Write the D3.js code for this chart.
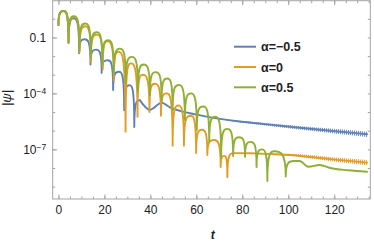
<!DOCTYPE html>
<html>
<head>
<meta charset="utf-8">
<script src="https://cdn.jsdelivr.net/npm/d3@7"></script>
<style>
  body { margin: 0; background: #fff; }
  svg { display: block; font-family: "Liberation Sans", Arial, sans-serif; }
</style>
</head>
<body>
<svg id="chart" width="374" height="243"></svg>
<script>
// values are log10|psi|, t on the x axis
const seriesNames = ["\u03b1=\u22120.5", "\u03b1=0", "\u03b1=0.5"];
const colors = ["#5e81b5", "#e19c24", "#8fb032"];

const startPoint = [0, -0.34];

// blue, alpha = -0.5
const bluePeaks = [[2.3, 0.42], [6.6, 0.02], [11.4, -1.1], [16.4, -1.65], [21.5, -2.22], [26.3, -2.84], [30.9, -3.56]];
const blueDips = [[4.4, -1.3], [9.0, -1.85], [13.95, -2.45], [18.8, -2.9], [23.8, -3.82], [28.6, -4.9], [33.0, -5.8]];
const blueTail = [[35.4, -4.36, 0], [39.8, -4.88, 0], [44.9, -4.5, 0], [48.5, -4.75, 0], [54.2, -4.98, 0],
  [60, -5.13, 0], [68.9, -5.34, 0.01], [77, -5.48, 0.04], [86.3, -5.6, 0.06], [100.8, -5.79, 0.09],
  [118.3, -6.0, 0.12], [134.3, -6.19, 0.14]];

// orange, alpha = 0
const orangePeaks = [[2.3, 0.42], [6.6, 0.1], [11.6, -0.4], [16.5, -0.85], [21.1, -1.2], [26.1, -1.77],
  [31.4, -2.39], [36.6, -3.0], [41.8, -3.48], [47.0, -4.0], [52.1, -4.65], [57.5, -5.2], [62.4, -5.95],
  [67.7, -6.5], [72.1, -7.35]];
const orangeDips = [[4.4, -1.3], [9.15, -1.8], [14.1, -2.3], [19.3, -2.7], [24.1, -3.3], [29.2, -6.05],
  [34.4, -5.25], [39.6, -5.0], [44.6, -5.2], [49.7, -6.8], [54.6, -6.8], [59.9, -7.2], [64.8, -7.3],
  [70.6, -7.95], [73.5, -8.5]];
const orangeTail = [[76.1, -7.2, 0], [83.4, -7.21, 0], [92, -7.25, 0.03], [100.8, -7.3, 0.06],
  [118.3, -7.52, 0.11], [134.3, -7.71, 0.14]];

// green, alpha = 0.5
const greenPeaks = [[2.3, 0.42], [6.7, 0.14], [11.6, -0.25], [16.6, -0.72], [21.6, -1.15], [26.7, -1.6],
  [31.9, -2.04], [37.1, -2.45], [42.3, -2.86], [47.3, -3.2], [52.3, -3.55], [57.6, -4.0], [62.9, -4.7],
  [68.2, -5.25], [73.4, -5.9], [78.6, -6.35], [83.7, -6.6], [88.5, -7.0], [93.9, -7.1]];
const greenDips = [[4.36, -1.24], [9.15, -1.7], [14.1, -2.1], [19.1, -2.55], [24.1, -3.0], [29.3, -3.45],
  [34.6, -3.9], [39.8, -4.1], [44.9, -4.4], [49.7, -4.9], [55.0, -5.43], [60.2, -5.96], [65.6, -6.6],
  [70.8, -7.45], [76.0, -7.36], [81.2, -7.4], [86.2, -7.95], [90.9, -8.7], [98.9, -8.45]];
const greenTail = [[102.5, -7.62, 0], [105, -7.62, 0], [108.7, -7.93, 0], [113.7, -7.84, 0],
  [118.3, -8.0, 0], [126, -8.12, 0], [134.3, -8.2, 0]];

const xTicks = [0, 20, 40, 60, 80, 100, 120];
const xMinorTicks = d3.range(0, 136, 5);
const yTicks = [-1, -4, -7];
const yMinorTicks = d3.range(0, -10, -1);

const svg = d3.select("#chart");
const frameColor = "#a3a3a3";

const x = d3.scaleLinear().domain([-2.5, 135.7]).range([52.7, 370.3]);
const y = d3.scaleLog().domain([10 ** -9.66, 10 ** 0.97]).range([199, 0.7]);
const Y = lg => y(10 ** lg);

// frame ticks, pointing inward
function styleAxis(g) {
  g.select(".domain").remove();
  g.selectAll(".tick line").attr("stroke", frameColor);
  g.selectAll(".tick text").attr("fill", "#222").style("font-size", "12px");
}

svg.append("g").attr("transform", "translate(0,199)")
  .call(d3.axisBottom(x).tickValues(xMinorTicks).tickSize(-2.5).tickFormat(""))
  .call(styleAxis);
svg.append("g").attr("transform", "translate(0,199)")
  .call(d3.axisBottom(x).tickValues(xTicks).tickSize(-4.5).tickPadding(6))
  .call(styleAxis);
svg.append("g").attr("transform", "translate(0,0.7)")
  .call(d3.axisTop(x).tickValues(xMinorTicks).tickSize(-2.5).tickFormat(""))
  .call(styleAxis);
svg.append("g").attr("transform", "translate(0,0.7)")
  .call(d3.axisTop(x).tickValues(xTicks).tickSize(-4.5).tickFormat(""))
  .call(styleAxis);

svg.append("g").attr("transform", "translate(52.7,0)")
  .call(d3.axisLeft(y).tickValues(yMinorTicks.map(e => 10 ** e)).tickSize(-2.5).tickFormat(""))
  .call(styleAxis);
const yLeft = svg.append("g").attr("transform", "translate(52.7,0)")
  .call(d3.axisLeft(y).tickValues(yTicks.map(e => 10 ** e)).tickSize(-4.5).tickPadding(6.5).tickFormat(""))
  .call(styleAxis);
svg.append("g").attr("transform", "translate(370.3,0)")
  .call(d3.axisRight(y).tickValues(yMinorTicks.map(e => 10 ** e)).tickSize(-2.5).tickFormat(""))
  .call(styleAxis);

// y tick labels: 0.1, 10^-4, 10^-7
yLeft.selectAll(".tick").each(function (d) {
  const e = Math.round(Math.log10(d));
  const t = d3.select(this).select("text")
    .attr("x", -6.5).attr("dy", "0.35em").attr("text-anchor", "end")
    .attr("fill", "#222").style("font-size", "12px");
  if (e === -1) {
    t.text("0.1");
  } else {
    t.text(null);
    t.append("tspan").text("10");
    t.append("tspan").attr("dy", "-0.45em").style("font-size", "8.5px").text("\u2212" + (-e));
  }
});

svg.append("rect")
  .attr("x", 52.7).attr("y", 0.7)
  .attr("width", 370.3 - 52.7).attr("height", 199 - 0.7)
  .attr("fill", "none").attr("stroke", frameColor).attr("stroke-width", 1);

// hatching for the fast ringing in the tails
const defs = svg.append("defs");
colors.forEach((c, i) => {
  const p = defs.append("pattern").attr("id", "hatch" + i)
    .attr("patternUnits", "userSpaceOnUse").attr("width", 2).attr("height", 4);
  p.append("rect").attr("width", 1.1).attr("height", 4).attr("fill", c).attr("opacity", 0.85);
});

// path through alternating peaks and cusps (dips), cusps drawn sharp
function lobePath(peaks, dips, tail) {
  const seq = [startPoint];
  peaks.forEach((p, i) => {
    seq.push(p);
    if (dips[i]) seq.push(dips[i]);
  });
  seq.push(tail[0]);
  const path = d3.path();
  path.moveTo(x(seq[0][0]), Y(seq[0][1]));
  for (let i = 1; i < seq.length; i++) {
    const ax = x(seq[i - 1][0]), ay = Y(seq[i - 1][1]);
    const bx = x(seq[i][0]), by = Y(seq[i][1]);
    if (by < ay) {
      // rising out of a cusp towards a top
      path.bezierCurveTo(ax, by, ax + 0.5 * (bx - ax), by, bx, by);
    } else {
      // falling from a top into a cusp
      path.bezierCurveTo(ax + 0.5 * (bx - ax), ay, bx, ay, bx, by);
    }
  }
  return path.toString();
}

const tailLine = d3.line().x(d => x(d[0])).y(d => Y(d[1])).curve(d3.curveMonotoneX);
const tailBand = d3.area().x(d => x(d[0]))
  .y0(d => Y(d[1] - d[2])).y1(d => Y(d[1] + d[2])).curve(d3.curveMonotoneX);

const series = [
  { peaks: bluePeaks, dips: blueDips, tail: blueTail },
  { peaks: orangePeaks, dips: orangeDips, tail: orangeTail },
  { peaks: greenPeaks, dips: greenDips, tail: greenTail }
];

const plot = svg.append("g");
series.forEach((s, i) => {
  plot.append("path").attr("d", lobePath(s.peaks, s.dips, s.tail))
    .attr("fill", "none").attr("stroke", colors[i]).attr("stroke-width", 1.9)
    .attr("stroke-linejoin", "round").attr("stroke-linecap", "round");
  plot.append("path").attr("d", tailLine(s.tail))
    .attr("fill", "none").attr("stroke", colors[i]).attr("stroke-width", 1.9)
    .attr("stroke-linecap", "round");
  if (s.tail.some(d => d[2] > 0)) {
    plot.append("path").attr("d", tailBand(s.tail))
      .attr("fill", "url(#hatch" + i + ")").attr("stroke", "none");
  }
});

// legend
const legend = svg.append("g");
seriesNames.forEach((name, i) => {
  const ly = 46.7 + i * 20.3;
  legend.append("line").attr("x1", 234).attr("x2", 256).attr("y1", ly).attr("y2", ly)
    .attr("stroke", colors[i]).attr("stroke-width", 2);
  legend.append("text").attr("x", 261).attr("y", ly).attr("dy", "0.36em")
    .style("font-size", "12.5px").style("font-weight", "bold").attr("fill", "#222")
    .text(name);
});

// axis labels
svg.append("text").attr("transform", "translate(11,98) rotate(-90)")
  .attr("text-anchor", "middle").style("font-size", "13px").style("font-style", "italic")
  .attr("fill", "#222").text("|\u03c8|");
svg.append("text").attr("x", 212.7).attr("y", 239)
  .attr("text-anchor", "middle").style("font-size", "12px").style("font-style", "italic")
  .style("font-weight", "bold").attr("fill", "#222").text("t");
</script>
</body>
</html>
